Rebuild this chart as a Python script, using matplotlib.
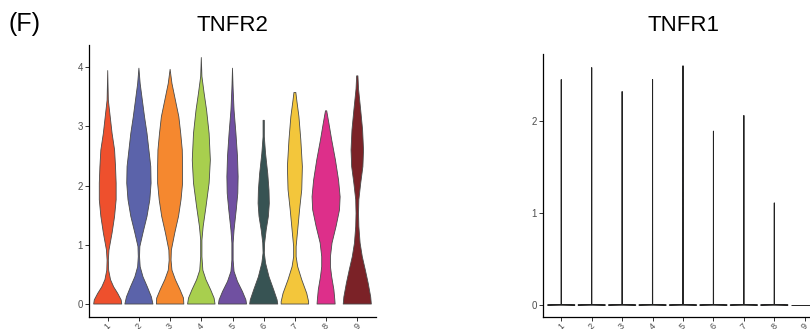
# Violin plots of TNFR2 and TNFR1 expression per cluster

import matplotlib
matplotlib.use("Agg")
import matplotlib.pyplot as plt

plt.rcParams['font.family'] = ['Liberation Sans', 'DejaVu Sans']

clusters = ["1", "2", "3", "4", "5", "6", "7", "8", "9"]
colors = ["#EE502D", "#5B63AA", "#F5882F", "#A8CF4E", "#7050A1",
          "#375353", "#F3C63B", "#DD2F8A", "#7B2227"]

# TNFR2: violin outlines, expression level and half-width at that level
tnfr2_levels = [
    [0, 0.07, 0.18, 0.29, 0.41, 0.57, 0.74, 0.91, 1.2, 1.48, 1.76, 2.04, 2.32, 2.6, 2.88, 3.16, 3.44, 3.94],
    [0, 0.12, 0.29, 0.46, 0.63, 0.8, 0.97, 1.2, 1.48, 1.76, 2.04, 2.32, 2.6, 2.88, 3.16, 3.44, 3.72, 3.98],
    [0, 0.1, 0.24, 0.41, 0.57, 0.74, 0.91, 1.2, 1.48, 1.76, 2.04, 2.32, 2.6, 2.88, 3.16, 3.44, 3.72, 3.96],
    [0, 0.1, 0.24, 0.41, 0.57, 0.8, 1.08, 1.31, 1.64, 2.04, 2.43, 2.88, 3.27, 3.56, 3.84, 4.16],
    [0, 0.07, 0.21, 0.38, 0.55, 0.74, 1.03, 1.25, 1.59, 1.87, 2.15, 2.49, 2.88, 3.27, 3.63, 3.98],
    [0, 0.07, 0.24, 0.46, 0.69, 0.86, 1.03, 1.25, 1.48, 1.7, 1.92, 2.2, 2.54, 2.82, 3.1],
    [0, 0.04, 0.18, 0.41, 0.63, 0.8, 0.97, 1.25, 1.59, 1.93, 2.32, 2.77, 3.16, 3.44, 3.57],
    [0, 0.07, 0.24, 0.46, 0.63, 0.8, 1.03, 1.31, 1.59, 1.81, 2.09, 2.43, 2.77, 3.05, 3.26],
    [0, 0.12, 0.35, 0.57, 0.8, 1.03, 1.31, 1.53, 1.76, 2.04, 2.32, 2.6, 2.94, 3.27, 3.63, 3.85],
]
tnfr2_halfwidths = [
    [0.45, 0.43, 0.32, 0.19, 0.09, 0.03, 0.02, 0.04, 0.14, 0.22, 0.27, 0.27, 0.25, 0.22, 0.14, 0.08, 0.02, 0.0],
    [0.45, 0.40, 0.27, 0.13, 0.04, 0.02, 0.03, 0.13, 0.26, 0.35, 0.39, 0.38, 0.32, 0.26, 0.18, 0.11, 0.04, 0.0],
    [0.44, 0.43, 0.32, 0.17, 0.06, 0.03, 0.04, 0.15, 0.27, 0.35, 0.40, 0.40, 0.39, 0.34, 0.28, 0.17, 0.06, 0.0],
    [0.44, 0.41, 0.30, 0.15, 0.05, 0.02, 0.02, 0.06, 0.15, 0.25, 0.29, 0.25, 0.17, 0.09, 0.02, 0.0],
    [0.45, 0.43, 0.32, 0.16, 0.05, 0.02, 0.02, 0.05, 0.12, 0.17, 0.18, 0.16, 0.11, 0.05, 0.02, 0.0],
    [0.45, 0.43, 0.32, 0.17, 0.06, 0.02, 0.03, 0.08, 0.15, 0.18, 0.17, 0.13, 0.06, 0.02, 0.02],
    [0.44, 0.44, 0.38, 0.22, 0.09, 0.04, 0.04, 0.09, 0.15, 0.22, 0.24, 0.19, 0.13, 0.06, 0.03],
    [0.29, 0.28, 0.25, 0.18, 0.14, 0.14, 0.19, 0.32, 0.43, 0.45, 0.40, 0.30, 0.18, 0.09, 0.02],
    [0.45, 0.43, 0.35, 0.26, 0.16, 0.09, 0.05, 0.04, 0.05, 0.11, 0.18, 0.20, 0.17, 0.11, 0.04, 0.02],
]

# TNFR1: almost all cells at zero, thin tail up to the max value
tnfr1_max = [2.45, 2.58, 2.32, 2.45, 2.60, 1.89, 2.06, 1.11, 0.0]
tnfr1_base = 0.45


def draw_violin(ax, pos, ys, ws, color, edge, lw):
    xs = [pos - w for w in ws] + [pos + w for w in reversed(ws)]
    yy = list(ys) + list(reversed(ys))
    ax.fill(xs, yy, facecolor=color, edgecolor=edge, linewidth=lw, joinstyle="round")


def style_axes(ax, ylim, yticks):
    ax.set_xlim(0.4, 9.6)
    ax.set_ylim(*ylim)
    ax.set_yticks(yticks)
    ax.set_xticks(range(1, 10))
    ax.set_xticklabels(clusters, rotation=45, ha="center", va="top")
    for s in ["top", "right"]:
        ax.spines[s].set_visible(False)
    for s in ["left", "bottom"]:
        ax.spines[s].set_linewidth(0.9)
        ax.spines[s].set_color("black")
    ax.tick_params(length=3, width=0.7, color="#333333", labelsize=7,
                   labelcolor="#4D4D4D", pad=1.5)
    ax.tick_params(axis="x", labelsize=6.5, pad=0)


fig = plt.figure(figsize=(8.1, 3.29), dpi=100)

# left panel
ax1 = fig.add_axes([89 / 810, 12 / 329, 287 / 810, 272 / 329])
for i in range(9):
    draw_violin(ax1, i + 1, tnfr2_levels[i], tnfr2_halfwidths[i], colors[i], "#4A4A4A", 0.6)
style_axes(ax1, (-0.219, 4.371), [0, 1, 2, 3, 4])

# right panel
ax2 = fig.add_axes([543 / 810, 12 / 329, 280 / 810, 263 / 329])
for i in range(9):
    if tnfr1_max[i] > 0:
        ys = [0, 0.004, tnfr1_max[i]]
        ws = [tnfr1_base, 0.004, 0.0]
    else:
        ys = [0, 0.004]
        ws = [tnfr1_base, tnfr1_base]
    draw_violin(ax2, i + 1, ys, ws, colors[i], "#222222", 0.7)
style_axes(ax2, (-0.13, 2.728), [0, 1, 2])

fig.text(232.5 / 810, 298 / 329, "TNFR2", ha="center", va="baseline", fontsize=16)
fig.text(683.5 / 810, 298 / 329, "TNFR1", ha="center", va="baseline", fontsize=16)
fig.text(9 / 810, 298 / 329, "(F)", ha="left", va="baseline", fontsize=18)

fig.savefig("out.png", dpi=100)
